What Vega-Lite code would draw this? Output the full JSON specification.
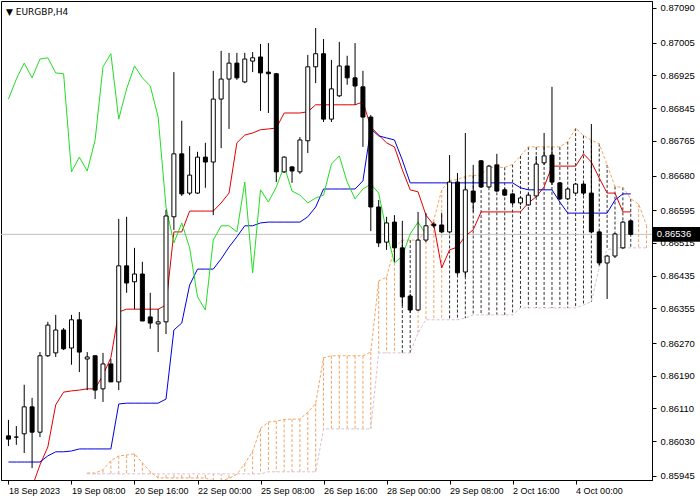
{
"$schema": "https://vega.github.io/schema/vega-lite/v6.json",
"width": 651, "height": 479,
"padding": {"left": 1, "top": 1, "right": 48, "bottom": 20},
"autosize": "none",
"background": "white",
"config": {"view": {"stroke": "black", "strokeWidth": 1},
"axis": {"labelOverlap": false, "labelFlush": false, "labelBound": false, "grid": false, "tickSize": 4, "tickColor": "black", "domainColor": "black", "labelColor": "black", "labelFont": "Liberation Sans", "zindex": 0, "title": null},
"axisX": {"labelAlign": "left", "labelDx": 1, "labelPadding": 2, "labelFontSize": 9},
"axisY": {"labelPadding": 4, "labelFontSize": 9.5, "labelBaseline": "middle"}},
"resolve": {"axis": {"x": "independent", "y": "independent"}},
"title": {"text": "▼ EURGBP,H4", "anchor": "start", "frame": "group", "offset": -16, "dx": 5, "font": "DejaVu Sans", "fontSize": 9, "fontWeight": "normal", "color": "black"},
"datasets": {
"bars": [
{"i":0,"o":0.86043,"h":0.86082,"l":0.86018,"c":0.86035,"tenkan":0.85886,"kijun":0.85979,"chikou":0.86867},
{"i":1,"o":0.86040,"h":0.86067,"l":0.86021,"c":0.86040,"tenkan":0.85886,"kijun":0.85979,"chikou":0.86916},
{"i":2,"o":0.86048,"h":0.86168,"l":0.86001,"c":0.86114,"tenkan":0.85898,"kijun":0.85979,"chikou":0.86955},
{"i":3,"o":0.86114,"h":0.86136,"l":0.85964,"c":0.86052,"tenkan":0.85918,"kijun":0.85979,"chikou":0.86919},
{"i":4,"o":0.86052,"h":0.86248,"l":0.86040,"c":0.86239,"tenkan":0.85972,"kijun":0.85979,"chikou":0.86965},
{"i":5,"o":0.86239,"h":0.86322,"l":0.86236,"c":0.86314,"tenkan":0.86016,"kijun":0.85994,"chikou":0.86968},
{"i":6,"o":0.86246,"h":0.86339,"l":0.86236,"c":0.86302,"tenkan":0.86119,"kijun":0.86004,"chikou":0.86931},
{"i":7,"o":0.86302,"h":0.86307,"l":0.86253,"c":0.86256,"tenkan":0.86150,"kijun":0.86004,"chikou":0.86929},
{"i":8,"o":0.86258,"h":0.86339,"l":0.86217,"c":0.86327,"tenkan":0.86153,"kijun":0.86006,"chikou":0.86689},
{"i":9,"o":0.86327,"h":0.86346,"l":0.86199,"c":0.86248,"tenkan":0.86155,"kijun":0.86011,"chikou":0.86725},
{"i":10,"o":0.86231,"h":0.86248,"l":0.86155,"c":0.86236,"tenkan":0.86158,"kijun":0.86011,"chikou":0.86691},
{"i":11,"o":0.86239,"h":0.86240,"l":0.86133,"c":0.86155,"tenkan":0.86158,"kijun":0.86011,"chikou":0.86767},
{"i":12,"o":0.86158,"h":0.86246,"l":0.86126,"c":0.86219,"tenkan":0.86192,"kijun":0.86011,"chikou":0.86946},
{"i":13,"o":0.86219,"h":0.86231,"l":0.86175,"c":0.86175,"tenkan":0.86234,"kijun":0.86011,"chikou":0.86978},
{"i":14,"o":0.86175,"h":0.86574,"l":0.86155,"c":0.86459,"tenkan":0.86346,"kijun":0.86121,"chikou":0.86818},
{"i":15,"o":0.86459,"h":0.86579,"l":0.86393,"c":0.86417,"tenkan":0.86353,"kijun":0.86123,"chikou":0.86892},
{"i":16,"o":0.86420,"h":0.86503,"l":0.86353,"c":0.86439,"tenkan":0.86353,"kijun":0.86123,"chikou":0.86948},
{"i":17,"o":0.86439,"h":0.86469,"l":0.86324,"c":0.86324,"tenkan":0.86353,"kijun":0.86123,"chikou":0.86919},
{"i":18,"o":0.86334,"h":0.86393,"l":0.86305,"c":0.86319,"tenkan":0.86353,"kijun":0.86123,"chikou":0.86899},
{"i":19,"o":0.86317,"h":0.86353,"l":0.86248,"c":0.86322,"tenkan":0.86353,"kijun":0.86123,"chikou":0.86823},
{"i":20,"o":0.86322,"h":0.86596,"l":0.86292,"c":0.86581,"tenkan":0.86363,"kijun":0.86133,"chikou":0.86603},
{"i":21,"o":0.86579,"h":0.86933,"l":0.86547,"c":0.86733,"tenkan":0.86542,"kijun":0.86302,"chikou":0.86515},
{"i":22,"o":0.86733,"h":0.86814,"l":0.86630,"c":0.86635,"tenkan":0.86542,"kijun":0.86319,"chikou":0.86564},
{"i":23,"o":0.86637,"h":0.86752,"l":0.86632,"c":0.86681,"tenkan":0.86593,"kijun":0.86412,"chikou":0.86503},
{"i":24,"o":0.86637,"h":0.86738,"l":0.86635,"c":0.86725,"tenkan":0.86593,"kijun":0.86451,"chikou":0.86383},
{"i":25,"o":0.86725,"h":0.86760,"l":0.86650,"c":0.86713,"tenkan":0.86593,"kijun":0.86451,"chikou":0.86351},
{"i":26,"o":0.86713,"h":0.86936,"l":0.86583,"c":0.86867,"tenkan":0.86593,"kijun":0.86451,"chikou":0.86522},
{"i":27,"o":0.86867,"h":0.86985,"l":0.86747,"c":0.86916,"tenkan":0.86613,"kijun":0.86476,"chikou":0.86557},
{"i":28,"o":0.86916,"h":0.86980,"l":0.86794,"c":0.86955,"tenkan":0.86637,"kijun":0.86505,"chikou":0.86557},
{"i":29,"o":0.86955,"h":0.86980,"l":0.86914,"c":0.86919,"tenkan":0.86760,"kijun":0.86530,"chikou":0.86542},
{"i":30,"o":0.86909,"h":0.86980,"l":0.86906,"c":0.86965,"tenkan":0.86779,"kijun":0.86557,"chikou":0.86664},
{"i":31,"o":0.86960,"h":0.86982,"l":0.86933,"c":0.86968,"tenkan":0.86784,"kijun":0.86557,"chikou":0.86442},
{"i":32,"o":0.86970,"h":0.87002,"l":0.86838,"c":0.86931,"tenkan":0.86792,"kijun":0.86564,"chikou":0.86645},
{"i":33,"o":0.86933,"h":0.87004,"l":0.86833,"c":0.86929,"tenkan":0.86794,"kijun":0.86566,"chikou":0.86615},
{"i":34,"o":0.86929,"h":0.86931,"l":0.86664,"c":0.86689,"tenkan":0.86796,"kijun":0.86566,"chikou":0.86652},
{"i":35,"o":0.86689,"h":0.86727,"l":0.86686,"c":0.86725,"tenkan":0.86833,"kijun":0.86566,"chikou":0.86703},
{"i":36,"o":0.86701,"h":0.86703,"l":0.86662,"c":0.86691,"tenkan":0.86833,"kijun":0.86566,"chikou":0.86642},
{"i":37,"o":0.86689,"h":0.86774,"l":0.86684,"c":0.86767,"tenkan":0.86833,"kijun":0.86566,"chikou":0.86632},
{"i":38,"o":0.86765,"h":0.86975,"l":0.86735,"c":0.86946,"tenkan":0.86836,"kijun":0.86579,"chikou":0.86613},
{"i":39,"o":0.86946,"h":0.87041,"l":0.86906,"c":0.86978,"tenkan":0.86853,"kijun":0.86603,"chikou":0.86625},
{"i":40,"o":0.86978,"h":0.87014,"l":0.86811,"c":0.86818,"tenkan":0.86853,"kijun":0.86647,"chikou":0.86632},
{"i":41,"o":0.86818,"h":0.86963,"l":0.86811,"c":0.86892,"tenkan":0.86853,"kijun":0.86647,"chikou":0.86708},
{"i":42,"o":0.86875,"h":0.87007,"l":0.86872,"c":0.86948,"tenkan":0.86853,"kijun":0.86647,"chikou":0.86728},
{"i":43,"o":0.86948,"h":0.86973,"l":0.86902,"c":0.86919,"tenkan":0.86853,"kijun":0.86647,"chikou":0.86664},
{"i":44,"o":0.86919,"h":0.87004,"l":0.86853,"c":0.86899,"tenkan":0.86853,"kijun":0.86647,"chikou":0.86623},
{"i":45,"o":0.86897,"h":0.86936,"l":0.86750,"c":0.86823,"tenkan":0.86860,"kijun":0.86667,"chikou":0.86647},
{"i":46,"o":0.86823,"h":0.86828,"l":0.86544,"c":0.86603,"tenkan":0.86799,"kijun":0.86794,"chikou":0.86659},
{"i":47,"o":0.86603,"h":0.86620,"l":0.86505,"c":0.86515,"tenkan":0.86779,"kijun":0.86777,"chikou":0.86637},
{"i":48,"o":0.86517,"h":0.86579,"l":0.86498,"c":0.86564,"tenkan":0.86760,"kijun":0.86772,"chikou":0.86542},
{"i":49,"o":0.86566,"h":0.86583,"l":0.86469,"c":0.86503,"tenkan":0.86750,"kijun":0.86767,"chikou":0.86466},
{"i":50,"o":0.86503,"h":0.86569,"l":0.86361,"c":0.86383,"tenkan":0.86694,"kijun":0.86718,"chikou":0.86483},
{"i":51,"o":0.86385,"h":0.86390,"l":0.86344,"c":0.86351,"tenkan":0.86645,"kijun":0.86662,"chikou":0.86537},
{"i":52,"o":0.86351,"h":0.86591,"l":0.86349,"c":0.86522,"tenkan":0.86640,"kijun":0.86662,"chikou":0.86566},
{"i":53,"o":0.86522,"h":0.86588,"l":0.86517,"c":0.86557,"tenkan":0.86583,"kijun":0.86662,"chikou":0.86536},
{"i":54,"o":0.86561,"h":0.86566,"l":0.86552,"c":0.86557,"tenkan":0.86559,"kijun":0.86662},
{"i":55,"o":0.86559,"h":0.86588,"l":0.86539,"c":0.86542,"tenkan":0.86454,"kijun":0.86662},
{"i":56,"o":0.86542,"h":0.86730,"l":0.86539,"c":0.86664,"tenkan":0.86498,"kijun":0.86662},
{"i":57,"o":0.86664,"h":0.86686,"l":0.86437,"c":0.86442,"tenkan":0.86505,"kijun":0.86662},
{"i":58,"o":0.86444,"h":0.86784,"l":0.86432,"c":0.86645,"tenkan":0.86532,"kijun":0.86662},
{"i":59,"o":0.86642,"h":0.86706,"l":0.86591,"c":0.86615,"tenkan":0.86547,"kijun":0.86662},
{"i":60,"o":0.86716,"h":0.86718,"l":0.86650,"c":0.86652,"tenkan":0.86591,"kijun":0.86662},
{"i":61,"o":0.86652,"h":0.86706,"l":0.86650,"c":0.86703,"tenkan":0.86591,"kijun":0.86662},
{"i":62,"o":0.86706,"h":0.86733,"l":0.86640,"c":0.86642,"tenkan":0.86591,"kijun":0.86662},
{"i":63,"o":0.86645,"h":0.86650,"l":0.86630,"c":0.86632,"tenkan":0.86591,"kijun":0.86662},
{"i":64,"o":0.86635,"h":0.86637,"l":0.86608,"c":0.86613,"tenkan":0.86591,"kijun":0.86662},
{"i":65,"o":0.86613,"h":0.86628,"l":0.86608,"c":0.86625,"tenkan":0.86591,"kijun":0.86650},
{"i":66,"o":0.86608,"h":0.86637,"l":0.86606,"c":0.86632,"tenkan":0.86613,"kijun":0.86645},
{"i":67,"o":0.86630,"h":0.86728,"l":0.86628,"c":0.86708,"tenkan":0.86628,"kijun":0.86645},
{"i":68,"o":0.86711,"h":0.86784,"l":0.86706,"c":0.86728,"tenkan":0.86652,"kijun":0.86645},
{"i":69,"o":0.86730,"h":0.86897,"l":0.86657,"c":0.86664,"tenkan":0.86703,"kijun":0.86645},
{"i":70,"o":0.86662,"h":0.86664,"l":0.86620,"c":0.86623,"tenkan":0.86703,"kijun":0.86615},
{"i":71,"o":0.86623,"h":0.86650,"l":0.86620,"c":0.86647,"tenkan":0.86703,"kijun":0.86588},
{"i":72,"o":0.86637,"h":0.86662,"l":0.86635,"c":0.86659,"tenkan":0.86703,"kijun":0.86588},
{"i":73,"o":0.86659,"h":0.86662,"l":0.86632,"c":0.86637,"tenkan":0.86733,"kijun":0.86588},
{"i":74,"o":0.86637,"h":0.86806,"l":0.86539,"c":0.86542,"tenkan":0.86713,"kijun":0.86588},
{"i":75,"o":0.86542,"h":0.86544,"l":0.86461,"c":0.86466,"tenkan":0.86674,"kijun":0.86588},
{"i":76,"o":0.86466,"h":0.86486,"l":0.86378,"c":0.86483,"tenkan":0.86637,"kijun":0.86588},
{"i":77,"o":0.86483,"h":0.86539,"l":0.86478,"c":0.86537,"tenkan":0.86637,"kijun":0.86620},
{"i":78,"o":0.86503,"h":0.86569,"l":0.86500,"c":0.86566,"tenkan":0.86591,"kijun":0.86635},
{"i":79,"o":0.86569,"h":0.86571,"l":0.86535,"c":0.86536,"tenkan":0.86591,"kijun":0.86635}
],
"cloud": [
{"i":10,"a":0.85952,"b":0.85950},{"i":11,"a":0.85952,"b":0.85950},{"i":12,"a":0.85960,"b":0.85950},{"i":13,"a":0.85982,"b":0.85950},
{"i":14,"a":0.85994,"b":0.85950},{"i":15,"a":0.85996,"b":0.85950},{"i":16,"a":0.85999,"b":0.85950},{"i":17,"a":0.85977,"b":0.85950},
{"i":18,"a":0.85955,"b":0.85950},{"i":19,"a":0.85940,"b":0.85950},{"i":20,"a":0.85940,"b":0.85950},{"i":21,"a":0.85940,"b":0.85950},
{"i":22,"a":0.85940,"b":0.85950},{"i":23,"a":0.85940,"b":0.85950},{"i":24,"a":0.85940,"b":0.85950},{"i":25,"a":0.85940,"b":0.85950},
{"i":26,"a":0.85933,"b":0.85950},{"i":27,"a":0.85933,"b":0.85950},{"i":28,"a":0.85939,"b":0.85950},{"i":29,"a":0.85949,"b":0.85950},
{"i":30,"a":0.85975,"b":0.85950},{"i":31,"a":0.86005,"b":0.85950},{"i":32,"a":0.86061,"b":0.85950},{"i":33,"a":0.86077,"b":0.85955},
{"i":34,"a":0.86079,"b":0.85955},{"i":35,"a":0.86083,"b":0.85955},{"i":36,"a":0.86084,"b":0.85955},{"i":37,"a":0.86084,"b":0.85955},
{"i":38,"a":0.86101,"b":0.85955},{"i":39,"a":0.86122,"b":0.85955},{"i":40,"a":0.86234,"b":0.86060},{"i":41,"a":0.86239,"b":0.86060},
{"i":42,"a":0.86239,"b":0.86060},{"i":43,"a":0.86239,"b":0.86060},{"i":44,"a":0.86239,"b":0.86060},{"i":45,"a":0.86239,"b":0.86060},
{"i":46,"a":0.86248,"b":0.86060},{"i":47,"a":0.86422,"b":0.86246},{"i":48,"a":0.86431,"b":0.86246},{"i":49,"a":0.86503,"b":0.86246},
{"i":50,"a":0.86522,"b":0.86246},{"i":51,"a":0.86522,"b":0.86246},{"i":52,"a":0.86522,"b":0.86295},{"i":53,"a":0.86544,"b":0.86327},
{"i":54,"a":0.86571,"b":0.86327},{"i":55,"a":0.86645,"b":0.86327},{"i":56,"a":0.86668,"b":0.86327},{"i":57,"a":0.86670,"b":0.86327},
{"i":58,"a":0.86678,"b":0.86331},{"i":59,"a":0.86680,"b":0.86339},{"i":60,"a":0.86681,"b":0.86339},{"i":61,"a":0.86700,"b":0.86339},
{"i":62,"a":0.86700,"b":0.86339},{"i":63,"a":0.86700,"b":0.86339},{"i":64,"a":0.86707,"b":0.86339},{"i":65,"a":0.86728,"b":0.86356},
{"i":66,"a":0.86750,"b":0.86356},{"i":67,"a":0.86750,"b":0.86356},{"i":68,"a":0.86750,"b":0.86356},{"i":69,"a":0.86750,"b":0.86356},
{"i":70,"a":0.86750,"b":0.86356},{"i":71,"a":0.86763,"b":0.86356},{"i":72,"a":0.86796,"b":0.86356},{"i":73,"a":0.86778,"b":0.86363},
{"i":74,"a":0.86766,"b":0.86371},{"i":75,"a":0.86758,"b":0.86456},{"i":76,"a":0.86706,"b":0.86498},{"i":77,"a":0.86653,"b":0.86503},
{"i":78,"a":0.86651,"b":0.86503},{"i":79,"a":0.86623,"b":0.86503},{"i":80,"a":0.86610,"b":0.86503},{"i":81,"a":0.86558,"b":0.86503}
],
"now": [{"price": 0.86536}]
},
"layer": [
{
"data": {"name": "cloud"},
"mark": {"type": "rule", "strokeDash": [3, 2], "strokeWidth": 1, "clip": true},
"encoding": {
"x": {"field": "i", "type": "quantitative", "scale": {"domain": [-0.3125, 81.0625], "nice": false, "zero": false},
"axis": {"orient": "bottom", "labelOverlap": false, "values": [0, 8, 16, 24, 32, 40, 48, 56, 64, 72], "labelExpr": "['18 Sep 2023','19 Sep 08:00','20 Sep 16:00','22 Sep 00:00','25 Sep 08:00','26 Sep 16:00','28 Sep 00:00','29 Sep 08:00','2 Oct 16:00','4 Oct 00:00'][round(datum.value/8)]"}},
"y": {"field": "a", "type": "quantitative", "scale": {"domain": [0.85935, 0.87107], "nice": false, "zero": false},
"axis": {"orient": "right", "labelOverlap": false, "values": [0.8709, 0.87005, 0.86925, 0.86845, 0.86765, 0.8668, 0.86595, 0.86515, 0.86435, 0.86355, 0.8627, 0.8619, 0.8611, 0.8603, 0.85945], "format": ".5f"}},
"y2": {"field": "b"},
"color": {"condition": {"test": "datum.i == 50 || datum.i == 51 || (datum.i >= 56 && datum.i <= 79)", "value": "#303030"}, "value": "#f0a468"}
}
},
{
"data": {"name": "cloud"},
"mark": {"type": "line", "strokeDash": [3, 2], "strokeWidth": 1, "color": "#f4a460", "clip": true},
"encoding": {"x": {"field": "i", "type": "quantitative", "axis": null}, "y": {"field": "a", "type": "quantitative", "axis": null}}
},
{
"data": {"name": "cloud"},
"mark": {"type": "line", "strokeDash": [3, 2], "strokeWidth": 1, "color": "#d8bfd8", "clip": true},
"encoding": {"x": {"field": "i", "type": "quantitative", "axis": null}, "y": {"field": "b", "type": "quantitative", "axis": null}}
},
{
"data": {"name": "now"},
"mark": {"type": "rule", "color": "#c0c0c0", "strokeWidth": 1},
"encoding": {"y": {"field": "price", "type": "quantitative", "axis": null}}
},
{
"data": {"name": "bars"},
"mark": {"type": "line", "color": "#e00000", "strokeWidth": 1, "clip": true},
"encoding": {"x": {"field": "i", "type": "quantitative", "axis": null}, "y": {"field": "tenkan", "type": "quantitative", "axis": null}}
},
{
"data": {"name": "bars"},
"mark": {"type": "line", "color": "#0000dd", "strokeWidth": 1, "clip": true},
"encoding": {"x": {"field": "i", "type": "quantitative", "axis": null}, "y": {"field": "kijun", "type": "quantitative", "axis": null}}
},
{
"data": {"name": "bars"},
"mark": {"type": "line", "color": "#22dd22", "strokeWidth": 1, "clip": true},
"encoding": {"x": {"field": "i", "type": "quantitative", "axis": null}, "y": {"field": "chikou", "type": "quantitative", "axis": null}}
},
{
"data": {"name": "bars"},
"mark": {"type": "rule", "color": "black", "strokeWidth": 1, "clip": true},
"encoding": {"x": {"field": "i", "type": "quantitative", "axis": null}, "y": {"field": "l", "type": "quantitative", "axis": null}, "y2": {"field": "h"}}
},
{
"data": {"name": "bars"},
"mark": {"type": "bar", "orient": "vertical", "width": 4, "stroke": "black", "strokeWidth": 1, "clip": true},
"encoding": {"x": {"field": "i", "type": "quantitative", "axis": null}, "y": {"field": "o", "type": "quantitative", "axis": null}, "y2": {"field": "c"},
"fill": {"condition": {"test": "datum.c >= datum.o", "value": "white"}, "value": "black"}}
},
{
"data": {"name": "now"},
"mark": {"type": "point", "shape": "M-1,-0.3L1,-0.3L1,0.3L-1,0.3Z", "filled": true, "color": "black", "opacity": 1, "size": 2400, "xOffset": 30, "clip": false},
"encoding": {"x": {"datum": 81.0625, "type": "quantitative", "axis": null}, "y": {"field": "price", "type": "quantitative", "axis": null}}
},
{
"data": {"name": "now"},
"mark": {"type": "text", "color": "white", "font": "Liberation Sans", "fontSize": 9.5, "align": "center", "baseline": "middle", "dx": 27, "clip": false},
"encoding": {"x": {"datum": 81.0625, "type": "quantitative", "axis": null}, "y": {"field": "price", "type": "quantitative", "axis": null}, "text": {"field": "price", "type": "quantitative", "format": ".5f"}}
}
]
}
